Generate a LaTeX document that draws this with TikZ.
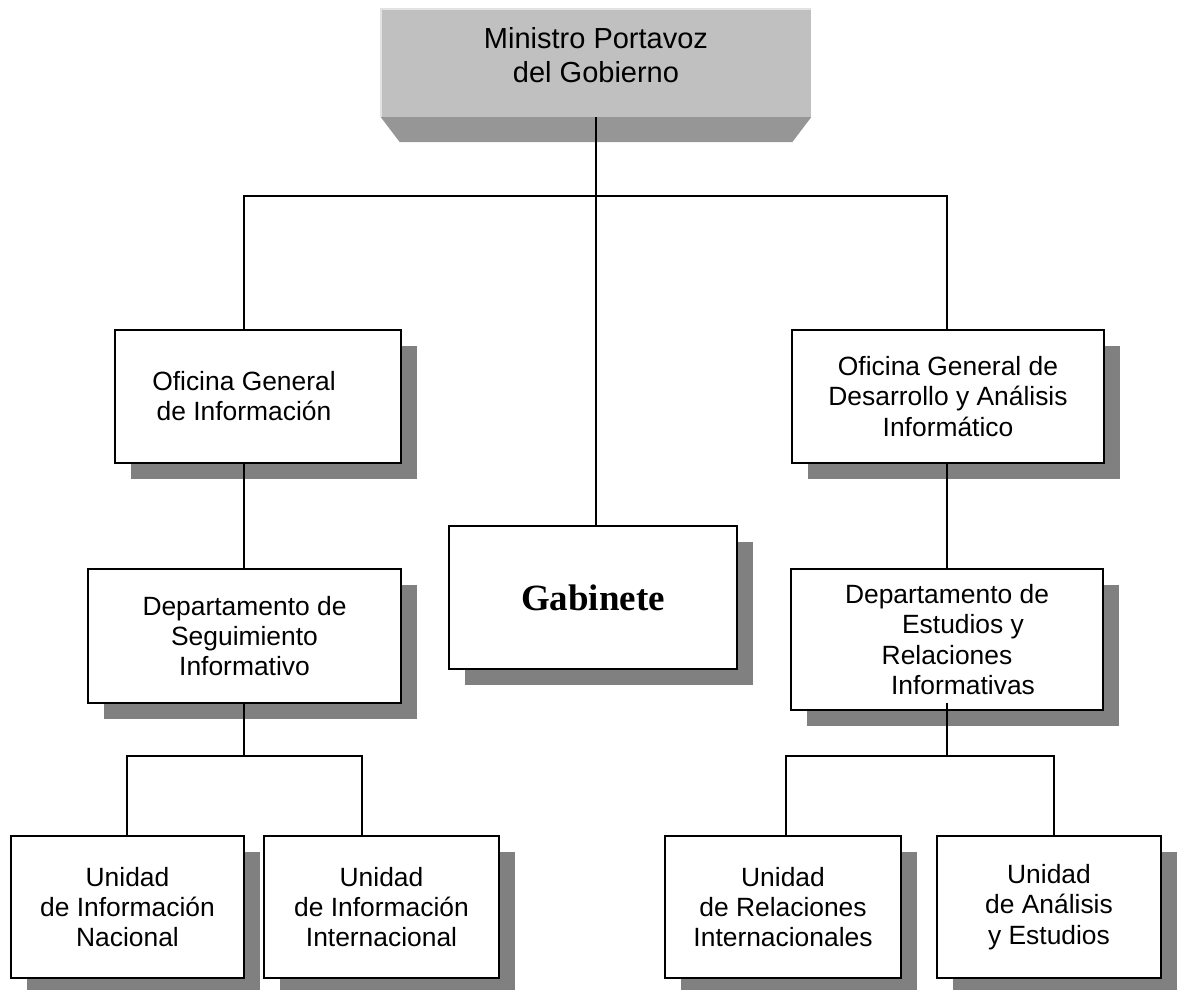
\documentclass[tikz,border=0pt]{standalone}
\usepackage{fontspec}
\setmainfont{Liberation Sans}
\newfontfamily\titleserif{Liberation Serif}
\usetikzlibrary{shadows}
\definecolor{shadeGray}{HTML}{808080}
\definecolor{faceGray}{HTML}{C0C0C0}
\definecolor{bevelGray}{HTML}{969696}
\definecolor{lightEdge}{HTML}{E2E2E2}
\begin{document}
\begin{tikzpicture}[x=1pt,y=-1pt,
  orgbox/.style={draw=black, line width=1.6pt, fill=white, align=center, inner sep=0pt,
    font=\fontsize{26.4}{30.4}\selectfont,
    drop shadow={shadow xshift=16pt, shadow yshift=-16pt, fill=shadeGray, opacity=1}},
  link/.style={draw=black, line width=1.5pt},
  plain/.style={inner sep=0pt, align=center}
]
\useasboundingbox (0,0) rectangle (1199,990);

% --- head of the chart: bevelled grey plate ---
\node[fill=faceGray, minimum width=430pt, minimum height=108pt, inner sep=0pt] (top) at (596,63) {};
\fill[bevelGray] (top.south west) -- (top.south east) -- ++(-19,25)
  -- ([xshift=19pt,yshift=-25pt]top.south west) -- cycle;
\draw[lightEdge, line width=2pt] (top.south west) -- (top.north west) -- (top.north east);
\node[plain, font=\fontsize{29}{33.5}\selectfont] (topLabel) at (596,55) {Ministro Portavoz\\del Gobierno};

% --- boxes ---
\node[orgbox, minimum width=286pt, minimum height=133pt] (ofiIzq) at (258,396.5) {};
\node[plain, font=\fontsize{26.4}{30.4}\selectfont] (ofiIzqLabel) at (244,396) {Oficina General\\de Información};
\node[orgbox, minimum width=312pt, minimum height=133pt] (ofiDer) at (948,396.5)
  {Oficina General de\\Desarrollo y Análisis\\Informático};
\node[orgbox, minimum width=288pt, minimum height=143pt,
  font=\titleserif\bfseries\fontsize{37}{42}\selectfont] (gabinete) at (593,597.5) {Gabinete};
\node[orgbox, minimum width=313pt, minimum height=134pt] (depSeg) at (244.5,636)
  {Departamento de\\Seguimiento\\Informativo};
\node[orgbox, minimum width=312pt, minimum height=141pt] (depEst) at (947,639.5)
  {Departamento de\\\hspace*{32pt}Estudios y\\Relaciones\\\hspace*{32pt}Informativas};
\node[orgbox, minimum width=233pt, minimum height=142pt] (uNac) at (127.5,907)
  {Unidad\\de Información\\Nacional};
\node[orgbox, minimum width=235pt, minimum height=142pt] (uInt) at (381.5,907)
  {Unidad\\de Información\\Internacional};
\node[orgbox, minimum width=236pt, minimum height=142pt] (uRel) at (783,907)
  {Unidad\\de Relaciones\\Internacionales};
\node[orgbox, minimum width=224pt, minimum height=142pt] (uAna) at (1049,907)
  {Unidad\\de Análisis\\y Estudios};

% --- junction points of the connector lines ---
\coordinate (colL) at (244,196);
\coordinate (colR) at (947,196);
\coordinate (busLa) at (127,756);
\coordinate (busLb) at (362,756);
\coordinate (busRa) at (786,756);
\coordinate (busRb) at (1054,756);

% --- connectors ---
\draw[link] (top.south) -- (top.south |- gabinete.north);
\draw[link] (colL |- ofiIzq.north) -- (colL) -- (colR) -- (colR |- ofiDer.north);
\draw[link] (colL |- ofiIzq.south) -- (colL |- depSeg.north);
\draw[link] (colL |- depSeg.south) -- (colL |- busLa);
\draw[link] (busLa |- uNac.north) -- (busLa) -- (busLb) -- (busLb |- uInt.north);
\draw[link] (colR |- ofiDer.south) -- (colR |- depEst.north);
\draw[link] ([yshift=8pt]colR |- depEst.south) -- (colR |- busRa);
\draw[link] (busRa |- uRel.north) -- (busRa) -- (busRb) -- (busRb |- uAna.north);
\end{tikzpicture}
\end{document}
